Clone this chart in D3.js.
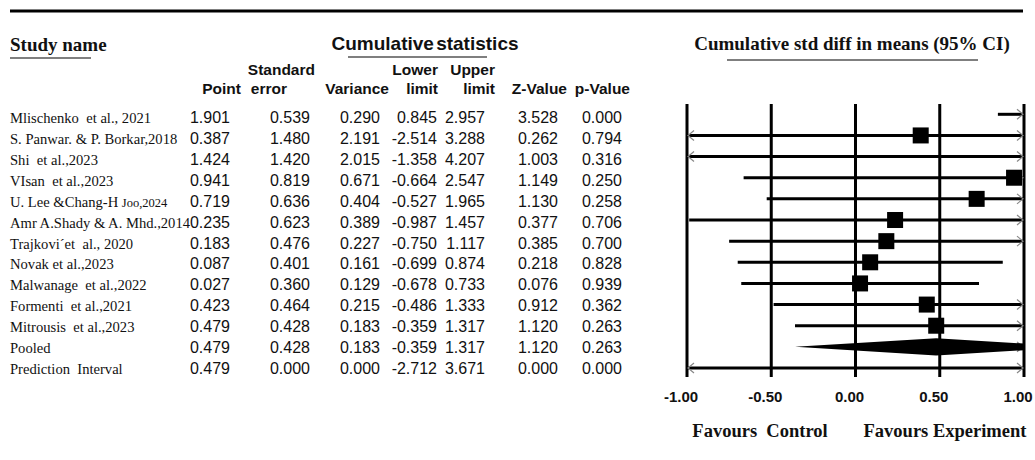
<!DOCTYPE html>
<meta charset="utf-8">
<head>
  <title>Cumulative forest plot</title>
  <script src="https://d3js.org/d3.v7.min.js"></script>
  <style>
    body { margin: 0; background: #fff; }
    .serif { font-family: "Liberation Serif", "Times New Roman", serif; fill: #111; }
    .sans { font-family: "Liberation Sans", Arial, sans-serif; fill: #111; }
    .hdr { font-weight: bold; font-size: 15.5px; }
    .cell { font-size: 16px; }
    .name { font-size: 14.6px; white-space: pre; }
    .grid { stroke: #000; stroke-width: 3; }
    .ci { stroke: #000; stroke-width: 3; }
    .arrow { fill: none; stroke: #888; stroke-width: 1.2; }
  </style>
</head>
<body>
<script>
  // Study rows
  var studies = ["Mlischenko  et al., 2021", "S. Panwar. & P. Borkar,2018", "Shi  et al.,2023",
    "VIsan  et al.,2023", "U. Lee &Chang-H Joo,2024", "Amr A.Shady & A. Mhd.,2014",
    "Trajkovi\u00b4et  al., 2020", "Novak et al.,2023", "Malwanage  et al.,2022",
    "Formenti  et al.,2021", "Mitrousis  et al.,2023", "Pooled", "Prediction  Interval"];
  var rowKind = ["study", "study", "study", "study", "study", "study", "study", "study",
    "study", "study", "study", "pooled", "prediction"];
  var point    = [1.901, 0.387, 1.424, 0.941, 0.719, 0.235, 0.183, 0.087, 0.027, 0.423, 0.479, 0.479, 0.479];
  var stdErr   = [0.539, 1.480, 1.420, 0.819, 0.636, 0.623, 0.476, 0.401, 0.360, 0.464, 0.428, 0.428, 0.000];
  var variance = [0.290, 2.191, 2.015, 0.671, 0.404, 0.389, 0.227, 0.161, 0.129, 0.215, 0.183, 0.183, 0.000];
  var lower    = [0.845, -2.514, -1.358, -0.664, -0.527, -0.987, -0.750, -0.699, -0.678, -0.486, -0.359, -0.359, -2.712];
  var upper    = [2.957, 3.288, 4.207, 2.547, 1.965, 1.457, 1.117, 0.874, 0.733, 1.333, 1.317, 1.317, 3.671];
  var zValue   = [3.528, 0.262, 1.003, 1.149, 1.130, 0.377, 0.385, 0.218, 0.076, 0.912, 1.120, 1.120, 0.000];
  var pValue   = [0.000, 0.794, 0.316, 0.250, 0.258, 0.706, 0.700, 0.828, 0.939, 0.362, 0.263, 0.263, 0.000];

  var axisTicks = [-1.00, -0.50, 0.00, 0.50, 1.00];

  var width = 1035, height = 460;
  // plain hyphen for negatives, like the source table
  var locale = d3.formatLocale({ decimal: ".", thousands: ",", grouping: [3], currency: ["", ""], minus: "-" });
  var fmt = locale.format(".3f");
  var fmtAxis = locale.format(".2f");

  var svg = d3.select("body").append("svg")
    .attr("width", width)
    .attr("height", height);

  // top rule
  svg.append("line")
    .attr("x1", 10).attr("x2", 1023).attr("y1", 11).attr("y2", 11)
    .attr("stroke", "#000").attr("stroke-width", 3);

  // ---- table side ----
  var idx = d3.range(studies.length);
  var rowY = d3.scaleLinear().domain([0, studies.length - 1]).range([123, 374]);

  svg.append("text").attr("class", "serif")
    .attr("x", 10).attr("y", 51)
    .style("font-weight", "bold").style("font-size", "19px")
    .text("Study name");
  svg.append("line").attr("x1", 10).attr("x2", 91).attr("y1", 58).attr("y2", 58)
    .attr("stroke", "#000").attr("stroke-width", 1.2);

  svg.append("text").attr("class", "sans")
    .attr("x", 425).attr("y", 50).attr("text-anchor", "middle")
    .style("font-weight", "bold").style("font-size", "19px").style("word-spacing", "-3px")
    .text("Cumulative statistics");
  svg.append("line").attr("x1", 348).attr("x2", 487).attr("y1", 57).attr("y2", 57)
    .attr("stroke", "#000").attr("stroke-width", 1.2);

  // column headers: two header lines, their right edges, right edge of values, values
  var columns = [
    { top: "", bottom: "Point", hx: 241, topx: 241, vx: 230, vals: point },
    { top: "Standard", bottom: "error", hx: 287, topx: 315, vx: 310, vals: stdErr },
    { top: "", bottom: "Variance", hx: 389, topx: 389, vx: 380, vals: variance },
    { top: "Lower", bottom: "limit", hx: 438, topx: 438, vx: 437, vals: lower },
    { top: "Upper", bottom: "limit", hx: 495, topx: 495, vx: 485, vals: upper },
    { top: "", bottom: "Z-Value", hx: 567, topx: 567, vx: 558, vals: zValue },
    { top: "", bottom: "p-Value", hx: 630, topx: 630, vx: 622, vals: pValue }
  ];

  columns.forEach(function(c) {
    if (c.top) {
      svg.append("text").attr("class", "sans hdr")
        .attr("x", c.topx).attr("y", 75).attr("text-anchor", "end").text(c.top);
    }
    svg.append("text").attr("class", "sans hdr")
      .attr("x", c.hx).attr("y", 94).attr("text-anchor", "end").text(c.bottom);
    svg.append("g").selectAll("text")
      .data(idx)
      .enter().append("text")
      .attr("class", "sans cell")
      .attr("x", c.vx)
      .attr("y", function(i) { return rowY(i); })
      .attr("text-anchor", "end")
      .text(function(i) { return fmt(c.vals[i]); });
  });

  // study names (the Lee row has a smaller tail in the source)
  svg.append("g").selectAll("text")
    .data(idx)
    .enter().append("text")
    .attr("class", "serif name")
    .attr("x", 10)
    .attr("y", function(i) { return rowY(i); })
    .each(function(i) {
      var t = d3.select(this);
      var name = studies[i];
      var cut = name.indexOf("Joo,");
      if (cut > 0) {
        t.append("tspan").text(name.slice(0, cut));
        t.append("tspan").style("font-size", "12.5px").text(name.slice(cut));
      } else {
        t.text(name);
      }
      // the long Amr row runs right up to the Point column in the source
      if (this.getComputedTextLength() > 180) {
        t.attr("textLength", 180).attr("lengthAdjust", "spacingAndGlyphs");
      }
    });

  // ---- forest plot ----
  var x = d3.scaleLinear().domain([-1, 1]).range([687, 1024]);
  var plotY = d3.scaleLinear().domain([0, studies.length - 1]).range([114.3, 368]);
  var yTop = 104, yBottom = 377;

  svg.append("text").attr("class", "serif")
    .attr("x", 852).attr("y", 50).attr("text-anchor", "middle")
    .style("font-weight", "bold").style("font-size", "19px")
    .text("Cumulative std diff in means (95% CI)");
  svg.append("line").attr("x1", 727).attr("x2", 978).attr("y1", 60).attr("y2", 60)
    .attr("stroke", "#000").attr("stroke-width", 1.2);

  svg.append("defs").append("clipPath").attr("id", "plotClip")
    .append("rect")
    .attr("x", x(-1)).attr("y", yTop)
    .attr("width", x(1) - x(-1)).attr("height", yBottom - yTop);

  var plot = svg.append("g");

  plot.selectAll(".grid")
    .data(axisTicks)
    .enter().append("line")
    .attr("class", "grid")
    .attr("x1", function(d) { return x(d); })
    .attr("x2", function(d) { return x(d); })
    .attr("y1", yTop).attr("y2", yBottom);

  var clampX = function(v) { return x(Math.max(-1, Math.min(1, v))); };

  // confidence interval lines
  plot.selectAll(".ci")
    .data(idx.filter(function(i) { return rowKind[i] !== "pooled"; }))
    .enter().append("line")
    .attr("class", "ci")
    .attr("x1", function(i) { return clampX(lower[i]); })
    .attr("x2", function(i) { return clampX(upper[i]); })
    .attr("y1", function(i) { return plotY(i); })
    .attr("y2", function(i) { return plotY(i); });

  // arrow heads where the interval runs off the scale
  idx.forEach(function(i) {
    var y = plotY(i);
    if (lower[i] < -1) {
      plot.append("path").attr("class", "arrow")
        .attr("d", d3.line()([[x(-1) + 7, y - 5], [x(-1) + 1, y], [x(-1) + 7, y + 5]]));
    }
    if (upper[i] > 1) {
      plot.append("path").attr("class", "arrow")
        .attr("d", d3.line()([[x(1) - 7, y - 5], [x(1) - 1, y], [x(1) - 7, y + 5]]));
    }
  });

  // point estimates
  var sq = 16;
  plot.selectAll(".pt")
    .data(idx.filter(function(i) {
      return rowKind[i] === "study" && point[i] >= -1 && point[i] <= 1;
    }))
    .enter().append("rect")
    .attr("class", "pt")
    .attr("x", function(i) { return x(point[i]) - sq / 2; })
    .attr("y", function(i) { return plotY(i) - sq / 2; })
    .attr("width", sq).attr("height", sq)
    .attr("fill", "#000");

  // pooled diamond
  idx.filter(function(i) { return rowKind[i] === "pooled"; }).forEach(function(i) {
    var y = plotY(i), h = 8.7;
    plot.append("path")
      .attr("clip-path", "url(#plotClip)")
      .attr("fill", "#000")
      .attr("d", d3.line()([[x(lower[i]), y], [x(point[i]), y - h], [x(upper[i]), y], [x(point[i]), y + h]]) + "Z");
  });

  // axis labels
  svg.append("g").selectAll("text")
    .data(axisTicks)
    .enter().append("text")
    .attr("class", "sans")
    .attr("x", function(d) { return x(d) - 6; })
    .attr("y", 402)
    .attr("text-anchor", "middle")
    .style("font-weight", "bold").style("font-size", "15px")
    .text(function(d) { return fmtAxis(d); });

  svg.append("text").attr("class", "serif")
    .attr("x", 760).attr("y", 437).attr("text-anchor", "middle")
    .style("font-weight", "bold").style("font-size", "18.5px").style("white-space", "pre")
    .text("Favours  Control");
  svg.append("text").attr("class", "serif")
    .attr("x", 945).attr("y", 437).attr("text-anchor", "middle")
    .style("font-weight", "bold").style("font-size", "18.5px")
    .text("Favours Experiment");
</script>
</body>
</html>
